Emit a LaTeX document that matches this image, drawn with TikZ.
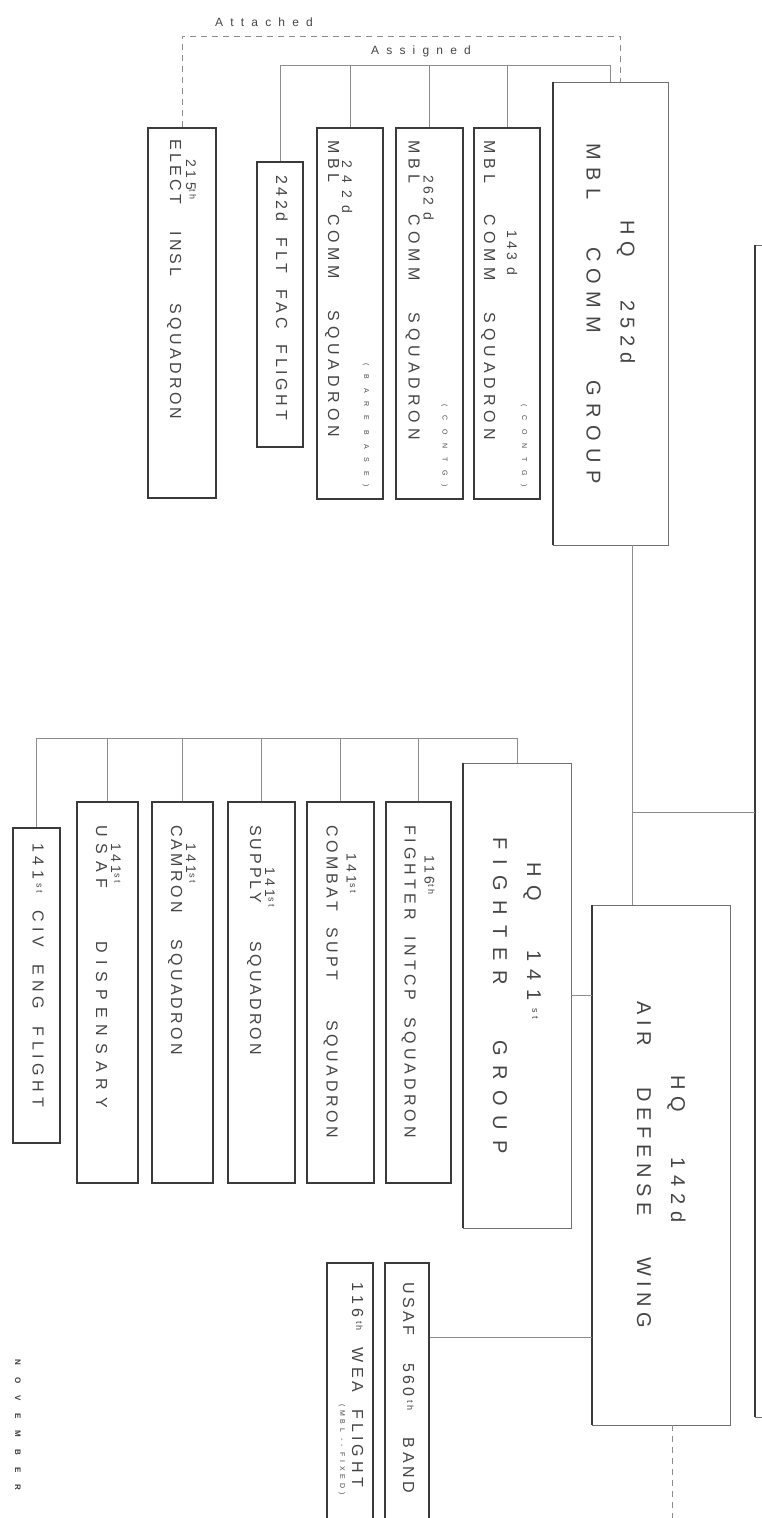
\documentclass[tikz,border=0pt]{standalone}
\usepackage{fontspec}
\usepackage{graphicx}
\setmainfont{Liberation Sans}
\newfontfamily\unitfont[LetterSpace=25]{Liberation Sans}
\newfontfamily\hqfont[LetterSpace=35]{Liberation Sans}
\newfontfamily\notefont[LetterSpace=125]{Liberation Sans}
\newfontfamily\tagfont[LetterSpace=60]{Liberation Sans}
\newfontfamily\stampfont[LetterSpace=150]{Liberation Sans}

\definecolor{ink}{HTML}{454545}
\definecolor{rule}{HTML}{3A3A3A}
\definecolor{thin}{HTML}{707070}
\definecolor{wiregray}{HTML}{8C8C8C}

% text helpers
\makeatletter
\newcommand{\spread}[2]{\makebox[#1][s]{\@tfor\sp@ch:=#2\do{\sp@ch\hfil}\unskip}}
\makeatother
\newcommand{\ord}[1]{\raisebox{0.5ex}{\fontsize{9}{9}\selectfont #1}}
\newcommand{\unitno}[1]{{\fontsize{14}{20}\selectfont #1}}
\newcommand{\remark}[1]{{\notefont\fontsize{7}{8}\selectfont #1}}
\newcommand{\boxtext}[2]{\rotatebox{-90}{\begin{tabular}{@{}p{#1}@{}}#2\end{tabular}}}

\tikzset{
  unit/.style={draw=rule, line width=1.8pt, inner sep=0pt, text=ink,
    font=\unitfont\fontsize{16}{20}\selectfont},
  hq/.style={draw=thin, line width=0.9pt, inner sep=0pt, text=ink,
    font=\hqfont\fontsize{20}{34}\selectfont},
  heavyside/.style={draw=rule, line width=2pt},
  wire/.style={draw=wiregray, line width=0.8pt},
  tag/.style={text=ink, inner sep=0pt, font=\tagfont\fontsize{12}{12}\selectfont},
}

\begin{document}
\begin{tikzpicture}[x=1pt, y=-1pt]
  \useasboundingbox (0,0) rectangle (762,1518);

  % Headquarters
  \node[hq, minimum width=60, minimum height=1172] (cmd) at (785,831) {};
  \node[hq, minimum width=115, minimum height=463] (hq252) at (610.5,313.5)
    {\boxtext{340pt}{\hspace*{77pt}\spread{143pt}{HQ~~252d}\\ \spread{340pt}{MBL~~COMM~~GROUP}}};
  \node[hq, minimum width=108, minimum height=465] (hq141) at (517,995.5)
    {\boxtext{316pt}{\hspace*{25pt}\spread{156pt}{HQ~~141{\ord{st}}}\\ \spread{316pt}{FIGHTER~~GROUP}}};
  \node[hq, minimum width=138, minimum height=520] (hq142) at (661,1165)
    {\boxtext{327pt}{\hspace*{74pt}\spread{147pt}{HQ~~142d}\\ \spread{327pt}{AIR~~DEFENSE~~WING}}};
  \foreach \hqn in {cmd,hq252,hq141,hq142}
    \draw[heavyside] (\hqn.north west) -- (\hqn.south west);

  % Communications group units
  \node[unit, minimum width=66, minimum height=371] (u143) at (507,313.5)
    {\boxtext{347pt}{\hfill\remark{(CONTG)}\\[-5pt] \hspace*{90pt}\unitno{143 d}\\[3pt] \spread{300pt}{MBL~~COMM~~SQUADRON}}};
  \node[unit, minimum width=67, minimum height=371] (u262) at (429.5,313.5)
    {\boxtext{347pt}{\hfill\remark{(CONTG)}\\[-1pt] \hspace*{35pt}\unitno{262 d}\\[-5pt] \spread{300pt}{MBL~~COMM~~SQUADRON}}};
  \node[unit, minimum width=66, minimum height=371] (u242) at (350,313.5)
    {\boxtext{347pt}{\hfill\remark{(BARE BASE)}\\[2pt] \hspace*{20pt}\unitno{2 4 2 d}\\[-6pt] \spread{297pt}{MBL~~COMM~~SQUADRON}}};
  \node[unit, minimum width=46, minimum height=285] (flt242) at (280,304.5)
    {\boxtext{259pt}{\spread{245pt}{242d~FLT~FAC~FLIGHT}}};
  \node[unit, minimum width=68, minimum height=370] (e215) at (182,313)
    {\boxtext{347pt}{\hspace*{20pt}\unitno{215\ord{th}}\\[-4pt] \spread{280pt}{ELECT~~INSL~~SQUADRON}}};

  % Fighter group units
  \node[unit, minimum width=65, minimum height=381] (f116) at (418.5,992.5)
    {\boxtext{335pt}{\hspace*{30pt}\unitno{116\ord{th}}\\ \spread{313pt}{FIGHTER~INTCP~SQUADRON}}};
  \node[unit, minimum width=67, minimum height=381] (cs141) at (340.5,992.5)
    {\boxtext{335pt}{\hspace*{28pt}\unitno{141\ord{st}}\\ \spread{313pt}{COMBAT~SUPT~~~SQUADRON}}};
  \node[unit, minimum width=67, minimum height=381] (sup141) at (261.5,992.5)
    {\boxtext{335pt}{\hspace*{42pt}\unitno{141\ord{st}}\\[-5pt] \spread{230pt}{SUPPLY~~~SQUADRON}}};
  \node[unit, minimum width=61, minimum height=381] (cam141) at (182.5,992.5)
    {\boxtext{335pt}{\hspace*{18pt}\unitno{141\ord{st}}\\[-5pt] \spread{230pt}{CAMRON~~SQUADRON}}};
  \node[unit, minimum width=61, minimum height=381] (dis141) at (107.5,992.5)
    {\boxtext{335pt}{\hspace*{18pt}\unitno{141\ord{st}}\\[-5pt] \spread{283pt}{USAF~~~DISPENSARY}}};
  \node[unit, minimum width=47, minimum height=315] (ce141) at (36.5,985.5)
    {\boxtext{285pt}{\spread{264pt}{141{\ord{st}}~CIV~ENG~FLIGHT}}};

  % Wing units
  \node[unit, minimum width=44, minimum height=267] (band560) at (407,1396.5)
    {\boxtext{229pt}{\spread{211pt}{USAF~~560{\ord{th}}~~BAND}}};
  \node[unit, minimum width=46, minimum height=267] (wea116) at (350,1396.5)
    {\boxtext{229pt}{\spread{205pt}{116{\ord{th}}~WEA~FLIGHT}\\[-8pt] \hspace*{122pt}\rlap{\remark{\addfontfeature{LetterSpace=55}(MBL -- FIXED)}}}};

  % Lines
  \coordinate (asgbus) at (0,65);
  \coordinate (attbus) at (0,36);
  \coordinate (grpbus) at (0,738);
  \coordinate (spine) at (632,812);
  \coordinate (attfoot) at ([xshift=10pt]hq252.north);
  \coordinate (wingtail) at (672,1518);

  \draw[wire] (flt242.north) |- (hq252.north |- asgbus) -- (hq252.north);
  \foreach \sq in {u242,u262,u143}
    \draw[wire] (\sq.north) -- (\sq.north |- asgbus);
  \draw[wire, dashed, dash pattern=on 6pt off 5pt] (e215.north) |- (attfoot |- attbus) -- (attfoot);

  \draw[wire] (ce141.north) |- (hq141.north |- grpbus) -- (hq141.north);
  \foreach \sq in {dis141,cam141,sup141,cs141,f116}
    \draw[wire] (\sq.north) -- (\sq.north |- grpbus);

  \draw[wire] (spine |- hq252.south) -- (spine |- hq142.north);
  \draw[wire] (spine) -- (spine -| cmd.west);
  \draw[wire] (hq141.east) -- (hq141.east -| hq142.west);
  \draw[wire] (band560.east |- 0,1337) -- (hq142.west |- 0,1337);
  \draw[wire, dashed, dash pattern=on 6pt off 5pt] ([xshift=11pt]hq142.south) -- (wingtail);

  % Labels
  \node[tag] (attachedlbl) at (264,22) {Attached};
  \node[tag] (assignedlbl) at (421,51) {Assigned};
  \node[text=rule, inner sep=0pt, rotate=-90, font=\stampfont\bfseries\fontsize{8}{8}\selectfont] (month) at (18,1425) {NOVEMBER};
\end{tikzpicture}
\end{document}
